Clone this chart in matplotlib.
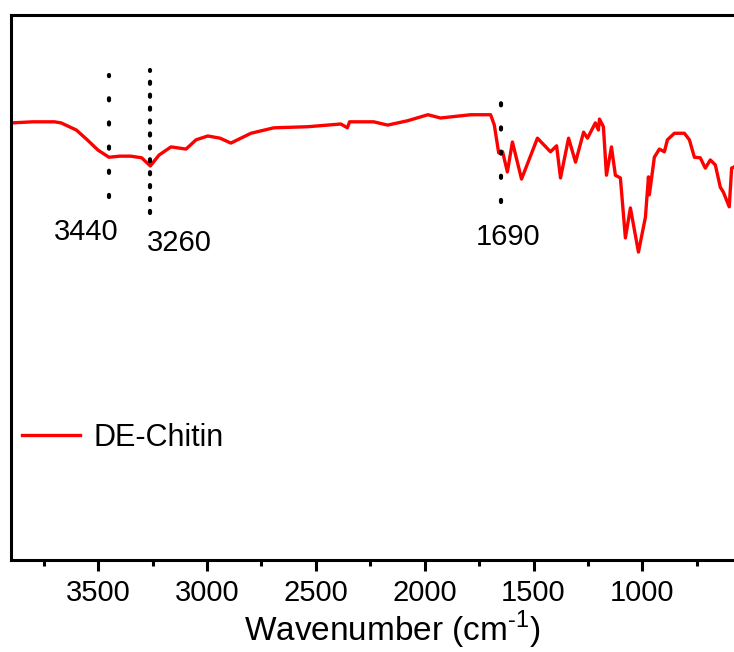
import matplotlib
matplotlib.use('Agg')
import matplotlib.pyplot as plt
from matplotlib.ticker import MultipleLocator

plt.rcParams['font.family'] = ['Liberation Sans', 'DejaVu Sans']
plt.rcParams['mathtext.fontset'] = 'custom'
plt.rcParams['mathtext.rm'] = 'Liberation Sans'

# FTIR spectrum of DE-Chitin (relative transmittance)
wavenumber = [3900, 3800, 3700, 3670, 3600, 3550, 3500, 3450, 3400, 3350, 3300,
              3260, 3220, 3165, 3096, 3050, 2996, 2940, 2890, 2844, 2798, 2693,
              2537, 2385, 2355, 2345, 2234, 2170, 2078, 1985, 1927, 1789, 1697,
              1680, 1660, 1642, 1620, 1597, 1555, 1482, 1422, 1394, 1376, 1339,
              1307, 1270, 1252, 1216, 1202, 1197, 1179, 1165, 1142, 1124, 1101,
              1078, 1055, 1018, 986, 972, 968, 945, 922, 899, 885, 853, 807, 784,
              761, 734, 711, 688, 665, 642, 628, 601, 590, 560]
transmittance = [80.2, 80.4, 80.4, 80.2, 78.9, 77.1, 75.2, 73.9, 74.1, 74.1, 73.8,
                 72.3, 74.3, 75.8, 75.4, 77.1, 77.8, 77.4, 76.5, 77.4, 78.3, 79.3,
                 79.5, 80.0, 79.3, 80.4, 80.4, 79.8, 80.6, 81.7, 81.1, 81.7, 81.7,
                 79.8, 74.7, 74.9, 71.2, 76.7, 69.9, 77.4, 74.9, 76.0, 70.1, 77.4,
                 73.0, 78.5, 77.4, 80.2, 78.9, 80.9, 79.5, 70.6, 75.8, 70.6, 70.1,
                 59.1, 64.6, 56.5, 62.9, 70.3, 67.0, 73.9, 75.4, 74.9, 77.1, 78.3, 78.3, 77.1,
                 73.9, 73.8, 71.9, 73.4, 72.5, 68.4, 67.5, 64.8, 71.9, 72.5]

# marked peaks
peak_pos = [3450, 3260, 1650]
peak_labels = ['3440', '3260', '1690']

fig = plt.figure(figsize=(7.34, 6.52), dpi=100)
ax = fig.add_axes([11/734, 92/652, 762/734, 545/652])

ax.plot(wavenumber, transmittance, color='#ff0000', lw=2.4, label='DE-Chitin')

# dotted guide lines + labels
dot_top = [89.0, 89.9, 84.4]
dot_bot = [66.6, 63.7, 65.7]
dot_gap = [5.3, 2.6, 5.3]
lab_x = [3555, 3128, 1615]
lab_y = [60.2, 58.2, 59.3]
for i in range(len(peak_pos)):
    ax.plot([peak_pos[i], peak_pos[i]], [dot_bot[i], dot_top[i]], color='black',
            lw=3.0, linestyle=(0, (0.5, dot_gap[i])), dash_capstyle='round')
    ax.text(lab_x[i], lab_y[i], peak_labels[i], fontsize=21, ha='center', va='center')

ax.set_xlim(3900, 400)
ax.set_ylim(0, 100)
ax.xaxis.set_minor_locator(MultipleLocator(250))
ax.set_xticks([3500, 3000, 2500, 2000, 1500, 1000])
ax.tick_params(axis='x', which='major', direction='out', length=8, width=2.2,
               labelsize=21, pad=6, top=False)
ax.tick_params(axis='x', which='minor', direction='out', length=4.3, width=2.2, top=False)
ax.set_yticks([])
for s in ax.spines.values():
    s.set_linewidth(2.2)

ax.set_xlabel('Wavenumber (cm$^{\\text{-1}}$)', fontsize=24, labelpad=1)

ax.legend(loc='center left', bbox_to_anchor=(22/734, (652-438)/652),
          bbox_transform=fig.transFigure, frameon=False, fontsize=22,
          handlelength=1.9, handletextpad=0.45, borderpad=0, borderaxespad=0)

plt.savefig('out.png', dpi=100)
